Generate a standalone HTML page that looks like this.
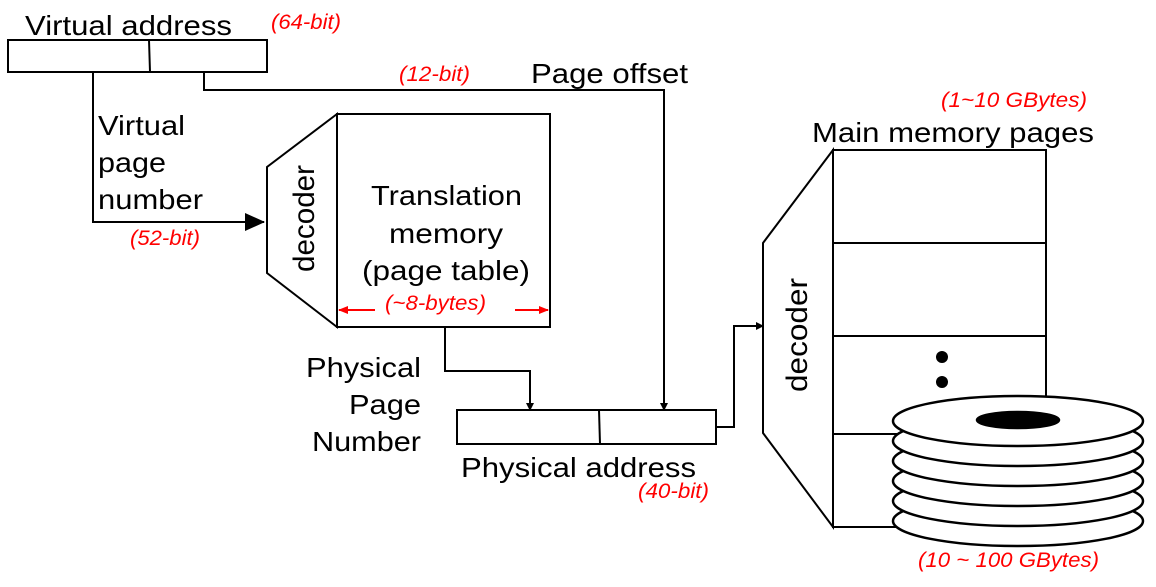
<!DOCTYPE html>
<html><head><meta charset="utf-8"><style>
html,body{margin:0;padding:0;background:#fff}
svg{display:block}
text{font-family:"Liberation Sans",Arial,sans-serif;fill:#000}
.r{fill:#f00;font-style:italic;font-size:21px}
.b{font-size:28px}
.d{font-size:30px}
</style></head><body>
<svg width="1156" height="587" viewBox="0 0 1156 587">
<defs><marker id="ar" markerWidth="8" markerHeight="8" refX="7" refY="4" orient="auto" markerUnits="userSpaceOnUse"><path d="M0,0 L8,4 L0,8z" fill="#000"/></marker>
<marker id="big" markerWidth="20" markerHeight="18" refX="19" refY="9" orient="auto" markerUnits="userSpaceOnUse"><path d="M0,0 L20,9 L0,18z" fill="#000"/></marker>
<marker id="red" markerWidth="10" markerHeight="10" refX="9" refY="5" orient="auto" markerUnits="userSpaceOnUse"><path d="M0,1 L10,5 L0,9z" fill="#f00"/></marker></defs>
<g fill="none" stroke="#000" stroke-width="2">
<rect x="8" y="40" width="259" height="32"/>
<line x1="149" y1="40" x2="150" y2="72"/>
<polyline points="93,72 93,222 264,222" marker-end="url(#big)"/>
<polyline points="204,72 204,90 664,90 664,410" marker-end="url(#ar)"/>
<rect x="337" y="114" width="213" height="213"/>
<polygon points="337,114 267,167 267,273 337,327"/>
<polyline points="445,327 445,371 530,371 530,410" marker-end="url(#ar)"/>
<rect x="457" y="410" width="259" height="34"/>
<line x1="599" y1="410" x2="600" y2="444"/>
<polyline points="716,427 734,427 734,326 763,326" marker-end="url(#ar)"/>
<rect x="833" y="150" width="213" height="377"/>
<line x1="833" y1="243" x2="1046" y2="243"/>
<line x1="833" y1="336" x2="1046" y2="336"/>
<line x1="833" y1="434" x2="1046" y2="434"/>
<polygon points="833,150 763,243 763,433 833,527"/>
</g>
<g stroke="#f00" stroke-width="2"><line x1="375" y1="310" x2="339" y2="310" marker-end="url(#red)"/><line x1="515" y1="310" x2="548" y2="310" marker-end="url(#red)"/></g>
<circle cx="942" cy="357" r="6"/><circle cx="942" cy="382" r="6"/>
<g fill="#fff" stroke="#000" stroke-width="2.5">
<ellipse cx="1018" cy="521" rx="125" ry="25"/><ellipse cx="1018" cy="501" rx="125" ry="25"/><ellipse cx="1018" cy="481" rx="125" ry="25"/><ellipse cx="1018" cy="461" rx="125" ry="25"/><ellipse cx="1018" cy="441" rx="125" ry="25"/><ellipse cx="1018" cy="421" rx="125" ry="25"/>
<ellipse cx="1018" cy="420" rx="41" ry="8" fill="#000"/></g>
<text class="b" x="25" y="35" textLength="207" lengthAdjust="spacingAndGlyphs">Virtual address</text>
<text class="r" x="271" y="29" textLength="70" lengthAdjust="spacingAndGlyphs">(64-bit)</text>
<text class="r" x="399" y="81" textLength="71" lengthAdjust="spacingAndGlyphs">(12-bit)</text>
<text class="b" x="531" y="83" textLength="157" lengthAdjust="spacingAndGlyphs">Page offset</text>
<text class="b" x="98" y="135" textLength="87" lengthAdjust="spacingAndGlyphs">Virtual</text>
<text class="b" x="98" y="172" textLength="68" lengthAdjust="spacingAndGlyphs">page</text>
<text class="b" x="98" y="209" textLength="105" lengthAdjust="spacingAndGlyphs">number</text>
<text class="r" x="130" y="245" textLength="70" lengthAdjust="spacingAndGlyphs">(52-bit)</text>
<text class="d" x="314" y="272" textLength="107" lengthAdjust="spacingAndGlyphs" transform="rotate(-90 314 272)">decoder</text>
<text class="b" x="371" y="205" textLength="151" lengthAdjust="spacingAndGlyphs">Translation</text>
<text class="b" x="389" y="243" textLength="114" lengthAdjust="spacingAndGlyphs">memory</text>
<text class="b" x="362" y="280" textLength="168" lengthAdjust="spacingAndGlyphs">(page table)</text>
<text class="r" x="385" y="310" textLength="101" lengthAdjust="spacingAndGlyphs">(~8-bytes)</text>
<text class="b" x="306" y="377" textLength="115" lengthAdjust="spacingAndGlyphs">Physical</text>
<text class="b" x="349" y="414" textLength="72" lengthAdjust="spacingAndGlyphs">Page</text>
<text class="b" x="312" y="451" textLength="109" lengthAdjust="spacingAndGlyphs">Number</text>
<text class="b" x="461" y="477" textLength="235" lengthAdjust="spacingAndGlyphs">Physical address</text>
<text class="r" x="638" y="498" textLength="71" lengthAdjust="spacingAndGlyphs">(40-bit)</text>
<text class="r" x="941" y="107" textLength="146" lengthAdjust="spacingAndGlyphs">(1~10 GBytes)</text>
<text class="b" x="812" y="142" textLength="282" lengthAdjust="spacingAndGlyphs">Main memory pages</text>
<text class="r" x="918" y="567" textLength="181" lengthAdjust="spacingAndGlyphs">(10 ~ 100 GBytes)</text>
<text class="d" x="807" y="392" textLength="114" lengthAdjust="spacingAndGlyphs" transform="rotate(-90 807 392)">decoder</text>
</svg>
</body></html>
